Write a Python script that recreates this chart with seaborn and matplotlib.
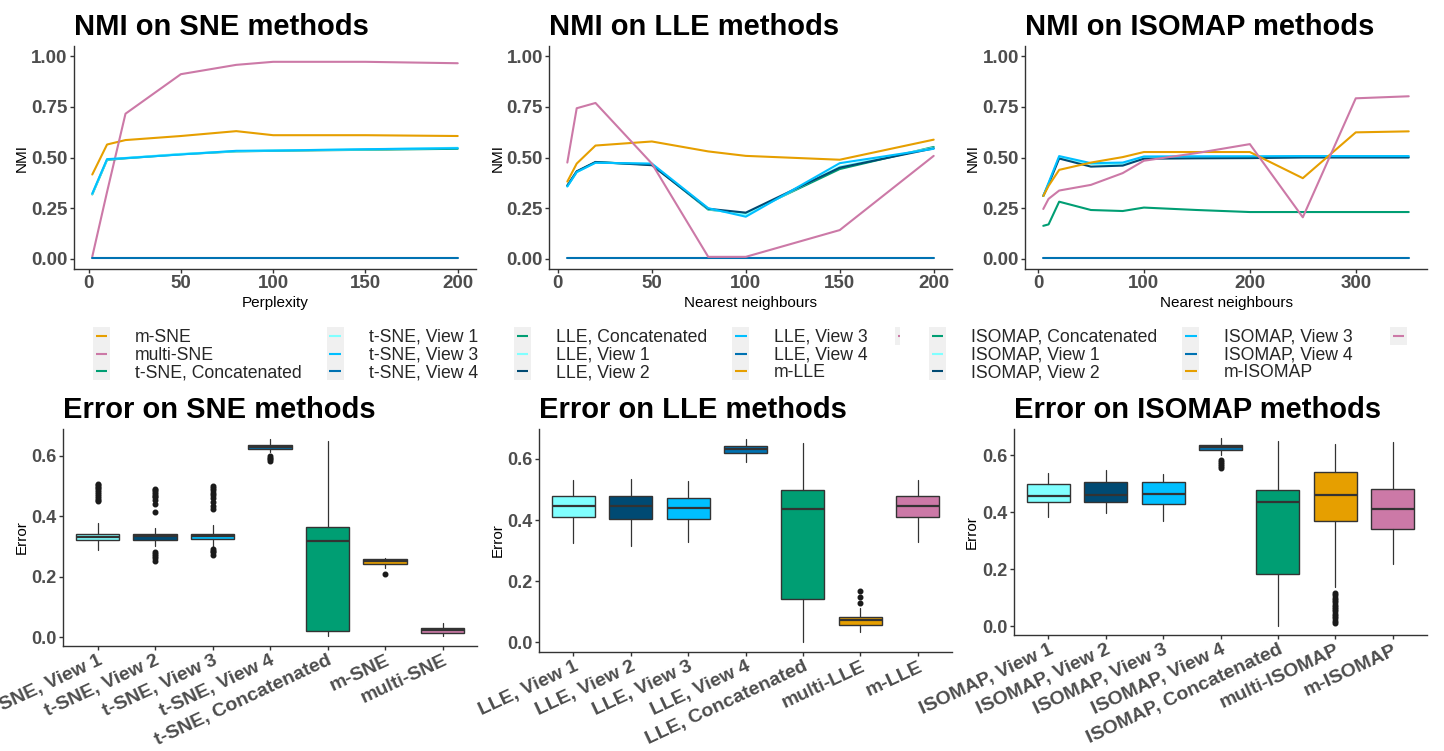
import matplotlib
matplotlib.use("Agg")
import numpy as np
import pandas as pd
import matplotlib.pyplot as plt
import seaborn as sns
from matplotlib.lines import Line2D
from matplotlib.patches import Rectangle
from matplotlib.legend_handler import HandlerBase
from matplotlib.transforms import Bbox, TransformedBbox
from matplotlib.ticker import FormatStrFormatter

# ---------------------------------------------------------------- colours
COL_V1 = "#80FFFF"
COL_V2 = "#004A73"
COL_V3 = "#00BFFF"
COL_V4 = "#0072B2"
COL_CONCAT = "#009E73"
COL_M = "#E69F00"
COL_MULTI = "#CC79A7"

# ---------------------------------------------------------------- NMI: SNE
sne_perplexity = [2, 10, 20, 50, 80, 100, 150, 200]
sne_methods = ["m-SNE", "multi-SNE", "t-SNE, Concatenated",
               "t-SNE, View 1", "t-SNE, View 3", "t-SNE, View 4"]
sne_m = [0.416, 0.564, 0.586, 0.606, 0.630, 0.610, 0.610, 0.606]
sne_multi = [0.011, 0.330, 0.716, 0.911, 0.957, 0.972, 0.972, 0.965]
sne_concat = [0.318, 0.488, 0.496, 0.516, 0.530, 0.533, 0.538, 0.543]
sne_view1 = [0.320, 0.490, 0.498, 0.518, 0.531, 0.535, 0.540, 0.548]
sne_view3 = [0.322, 0.492, 0.497, 0.515, 0.533, 0.534, 0.541, 0.546]
sne_view4 = [0.005, 0.005, 0.005, 0.005, 0.005, 0.005, 0.005, 0.005]

# ---------------------------------------------------------------- NMI: LLE
lle_neighbours = [5, 10, 20, 50, 80, 100, 150, 200]
lle_methods = ["LLE, Concatenated", "LLE, View 1", "LLE, View 2",
               "LLE, View 3", "LLE, View 4", "m-LLE", "multi-LLE"]
lle_concat = [0.360, 0.430, 0.477, 0.465, 0.243, 0.223, 0.443, 0.552]
lle_view1 = [0.358, 0.428, 0.475, 0.468, 0.245, 0.218, 0.455, 0.548]
lle_view2 = [0.362, 0.432, 0.478, 0.462, 0.247, 0.228, 0.450, 0.545]
lle_view3 = [0.357, 0.428, 0.474, 0.470, 0.250, 0.208, 0.472, 0.543]
lle_view4 = [0.005, 0.005, 0.005, 0.005, 0.005, 0.005, 0.005, 0.005]
lle_m = [0.381, 0.470, 0.559, 0.579, 0.530, 0.508, 0.489, 0.588]
lle_multi = [0.475, 0.743, 0.769, 0.470, 0.010, 0.010, 0.142, 0.508]

# ---------------------------------------------------------------- NMI: ISOMAP
iso_neighbours = [5, 10, 20, 50, 80, 100, 150, 200, 250, 300, 350]
iso_methods = ["ISOMAP, Concatenated", "ISOMAP, View 1", "ISOMAP, View 2",
               "ISOMAP, View 3", "ISOMAP, View 4", "m-ISOMAP", "multi-ISOMAP"]
iso_concat = [0.163, 0.170, 0.282, 0.241, 0.236, 0.253, 0.241, 0.231, 0.231, 0.231, 0.231]
iso_view1 = [0.310, 0.372, 0.502, 0.468, 0.468, 0.503, 0.503, 0.503, 0.505, 0.505, 0.505]
iso_view2 = [0.310, 0.368, 0.495, 0.455, 0.460, 0.494, 0.496, 0.497, 0.500, 0.500, 0.500]
iso_view3 = [0.310, 0.375, 0.507, 0.472, 0.475, 0.505, 0.506, 0.506, 0.507, 0.507, 0.507]
iso_view4 = [0.005, 0.005, 0.005, 0.005, 0.005, 0.005, 0.005, 0.005, 0.005, 0.005, 0.005]
iso_m = [0.310, 0.360, 0.439, 0.475, 0.502, 0.527, 0.527, 0.527, 0.398, 0.624, 0.629]
iso_multi = [0.246, 0.296, 0.337, 0.365, 0.423, 0.484, 0.522, 0.566, 0.205, 0.792, 0.802]

# ---------------------------------------------------------------- Error: SNE
sne_box_labels = ["t-SNE, View 1", "t-SNE, View 2", "t-SNE, View 3", "t-SNE, View 4",
                  "t-SNE, Concatenated", "m-SNE", "multi-SNE"]
sne_q1 = [0.320, 0.320, 0.323, 0.622, 0.020, 0.242, 0.014]
sne_med = [0.331, 0.334, 0.333, 0.629, 0.318, 0.253, 0.022]
sne_q3 = [0.342, 0.342, 0.342, 0.637, 0.364, 0.259, 0.029]
sne_whislo = [0.289, 0.300, 0.298, 0.614, 0.003, 0.228, 0.003]
sne_whishi = [0.376, 0.362, 0.370, 0.656, 0.648, 0.262, 0.046]
sne_fliers = [
    [0.450, 0.455, 0.460, 0.468, 0.475, 0.480, 0.486, 0.492, 0.497, 0.502, 0.505],
    [0.253, 0.260, 0.268, 0.275, 0.281, 0.415, 0.440, 0.455, 0.462, 0.468, 0.474,
     0.480, 0.486, 0.491],
    [0.273, 0.280, 0.286, 0.292, 0.423, 0.435, 0.448, 0.460, 0.470, 0.478, 0.486,
     0.493, 0.500],
    [0.583, 0.588, 0.593, 0.598],
    [],
    [0.209],
    [],
]

# ---------------------------------------------------------------- Error: LLE
lle_box_labels = ["LLE, View 1", "LLE, View 2", "LLE, View 3", "LLE, View 4",
                  "LLE, Concatenated", "multi-LLE", "m-LLE"]
lle_q1 = [0.411, 0.403, 0.403, 0.621, 0.143, 0.056, 0.410]
lle_med = [0.445, 0.445, 0.439, 0.633, 0.435, 0.072, 0.445]
lle_q3 = [0.479, 0.479, 0.473, 0.644, 0.498, 0.083, 0.479]
lle_whislo = [0.326, 0.316, 0.329, 0.589, 0.001, 0.032, 0.327]
lle_whishi = [0.531, 0.533, 0.528, 0.665, 0.651, 0.112, 0.531]
lle_fliers = [[], [], [], [], [], [0.127, 0.149, 0.167], []]

# ---------------------------------------------------------------- Error: ISOMAP
iso_box_labels = ["ISOMAP, View 1", "ISOMAP, View 2", "ISOMAP, View 3", "ISOMAP, View 4",
                  "ISOMAP, Concatenated", "multi-ISOMAP", "m-ISOMAP"]
iso_q1 = [0.435, 0.437, 0.429, 0.618, 0.185, 0.371, 0.342]
iso_med = [0.456, 0.460, 0.463, 0.629, 0.436, 0.462, 0.411]
iso_q3 = [0.501, 0.507, 0.506, 0.636, 0.480, 0.541, 0.482]
iso_whislo = [0.382, 0.397, 0.368, 0.603, 0.002, 0.136, 0.217]
iso_whishi = [0.539, 0.550, 0.535, 0.660, 0.651, 0.641, 0.647]
iso_fliers = [
    [], [], [],
    [0.556, 0.563, 0.570, 0.577, 0.584],
    [],
    [0.012, 0.020, 0.028, 0.036, 0.044, 0.052, 0.060, 0.068, 0.076, 0.084,
     0.092, 0.100, 0.108, 0.116],
    [],
]

box_colors = [COL_V1, COL_V2, COL_V3, COL_V4, COL_CONCAT, COL_M, COL_MULTI]

# ---------------------------------------------------------------- style
sns.set_theme(style="ticks")
plt.rcParams["font.family"] = ["Liberation Sans", "DejaVu Sans"]
plt.rcParams["axes.edgecolor"] = "#333333"
plt.rcParams["axes.linewidth"] = 1.0
plt.rcParams["xtick.color"] = "#333333"
plt.rcParams["ytick.color"] = "#333333"

W, H = 1444, 751
fig = plt.figure(figsize=(W / 100, H / 100), dpi=100)
fig.patch.set_facecolor("white")

TICK_GREY = "#4D4D4D"


def add_axes_px(left, top, right, bottom):
    return fig.add_axes([left / W, 1 - bottom / H, (right - left) / W, (bottom - top) / H])


def style_axes(ax, box, title, ylabel_right_px):
    left, top, right, bottom = box
    sns.despine(ax=ax)
    ax.set_facecolor("white")
    ax.set_title(title, loc="left", fontsize=21, fontweight="bold", pad=8, color="black")
    ax.yaxis.set_label_coords((ylabel_right_px - left) / (right - left), 0.5)
    ax.tick_params(length=3, width=1.0, pad=1.5)


def long_frame(x, names, series):
    rows = []
    for name, vals in zip(names, series):
        for xi, yi in zip(x, vals):
            rows.append((name, xi, yi))
    return pd.DataFrame(rows, columns=["method", "k", "NMI"])


top_panels = [
    dict(box=(74, 46, 476, 269), title="NMI on SNE methods", xlabel="Perplexity",
         x=sne_perplexity, names=sne_methods,
         series=[sne_m, sne_multi, sne_concat, sne_view1, sne_view3, sne_view4],
         colors=[COL_M, COL_MULTI, COL_CONCAT, COL_V1, COL_V3, COL_V4],
         xticks=[0, 50, 100, 150, 200], ylab_px=29),
    dict(box=(549, 46, 952, 269), title="NMI on LLE methods", xlabel="Nearest neighbours",
         x=lle_neighbours, names=lle_methods,
         series=[lle_concat, lle_view1, lle_view2, lle_view3, lle_view4, lle_m, lle_multi],
         colors=[COL_CONCAT, COL_V1, COL_V2, COL_V3, COL_V4, COL_M, COL_MULTI],
         xticks=[0, 50, 100, 150, 200], ylab_px=505),
    dict(box=(1025, 46, 1427, 269), title="NMI on ISOMAP methods", xlabel="Nearest neighbours",
         x=iso_neighbours, names=iso_methods,
         series=[iso_concat, iso_view1, iso_view2, iso_view3, iso_view4, iso_m, iso_multi],
         colors=[COL_CONCAT, COL_V1, COL_V2, COL_V3, COL_V4, COL_M, COL_MULTI],
         xticks=[0, 100, 200, 300], ylab_px=980),
]

for p in top_panels:
    ax = add_axes_px(*p["box"])
    df = long_frame(p["x"], p["names"], p["series"])
    sns.lineplot(data=df, x="k", y="NMI", hue="method", hue_order=p["names"],
                 palette=dict(zip(p["names"], p["colors"])), linewidth=1.5,
                 legend=False, ax=ax)
    span = max(p["x"]) - min(p["x"])
    ax.set_xlim(min(p["x"]) - 0.05 * span, max(p["x"]) + 0.05 * span)
    ax.set_ylim(-0.05, 1.05)
    ax.set_xticks(p["xticks"])
    ax.set_yticks([0, 0.25, 0.5, 0.75, 1.0])
    ax.yaxis.set_major_formatter(FormatStrFormatter("%.2f"))
    for lab in ax.get_xticklabels() + ax.get_yticklabels():
        lab.set_fontweight("bold")
        lab.set_fontsize(13.5)
        lab.set_color(TICK_GREY)
    ax.set_xlabel(p["xlabel"], fontsize=11, color="black")
    ax.set_ylabel("NMI", fontsize=11, color="black")
    style_axes(ax, p["box"], p["title"], p["ylab_px"])
    ax.xaxis.set_label_coords(0.5, (p["box"][3] - 296) / (p["box"][3] - p["box"][1]))


bottom_panels = [
    dict(box=(63, 429, 477, 646), title="Error on SNE methods", labels=sne_box_labels,
         q1=sne_q1, med=sne_med, q3=sne_q3, lo=sne_whislo, hi=sne_whishi,
         fliers=sne_fliers, ylab_px=29),
    dict(box=(539, 429, 952, 652), title="Error on LLE methods", labels=lle_box_labels,
         q1=lle_q1, med=lle_med, q3=lle_q3, lo=lle_whislo, hi=lle_whishi,
         fliers=lle_fliers, ylab_px=505),
    dict(box=(1014, 429, 1427, 635), title="Error on ISOMAP methods", labels=iso_box_labels,
         q1=iso_q1, med=iso_med, q3=iso_q3, lo=iso_whislo, hi=iso_whishi,
         fliers=iso_fliers, ylab_px=979),
]

for p in bottom_panels:
    ax = add_axes_px(*p["box"])
    stats = []
    for i in range(len(p["labels"])):
        stats.append(dict(label=p["labels"][i], q1=p["q1"][i], med=p["med"][i],
                          q3=p["q3"][i], whislo=p["lo"][i], whishi=p["hi"][i],
                          fliers=np.array(p["fliers"][i], dtype=float)))
    pos = np.arange(len(stats))
    bp = ax.bxp(stats, positions=pos, widths=0.75, patch_artist=True, showcaps=False,
                boxprops=dict(edgecolor="#333333", linewidth=1.0),
                medianprops=dict(color="#333333", linewidth=1.6),
                whiskerprops=dict(color="#333333", linewidth=0.9),
                flierprops=dict(marker="o", markersize=3.3, markerfacecolor="#1A1A1A",
                                markeredgecolor="#1A1A1A", linestyle="none"))
    for patch, c in zip(bp["boxes"], box_colors):
        patch.set_facecolor(c)
    all_vals = p["lo"] + p["hi"] + [v for f in p["fliers"] for v in f]
    lo, hi = min(all_vals), max(all_vals)
    ax.set_ylim(lo - 0.05 * (hi - lo), hi + 0.05 * (hi - lo))
    ax.set_xlim(-0.6, len(stats) - 0.4)
    ax.set_yticks([0, 0.2, 0.4, 0.6])
    ax.yaxis.set_major_formatter(FormatStrFormatter("%.1f"))
    ax.set_xticks(pos)
    ax.set_xticklabels(p["labels"], rotation=25, ha="right", rotation_mode="anchor")
    for lab in ax.get_xticklabels():
        lab.set_fontweight("bold")
        lab.set_fontsize(14)
        lab.set_color(TICK_GREY)
    for lab in ax.get_yticklabels():
        lab.set_fontweight("bold")
        lab.set_fontsize(13)
        lab.set_color(TICK_GREY)
    ax.set_ylabel("Error", fontsize=11, color="black")
    ax.set_xlabel("")
    style_axes(ax, p["box"], p["title"], p["ylab_px"])


# ---------------------------------------------------------------- legends
class KeyHandler(HandlerBase):
    """Grey key square with a short coloured dash, as in a ggplot legend."""

    def create_artists(self, legend, orig_handle, xdescent, ydescent, width, height,
                       fontsize, trans):
        pitch = fontsize * 1.0
        yc = height / 2 - ydescent
        bg = Rectangle((-xdescent, yc - pitch / 2), width, pitch, facecolor="#F0F0F0",
                       edgecolor="none", transform=trans)
        seg = Line2D([-xdescent + width * 0.15, -xdescent + width * 0.85], [yc, yc],
                     color=orig_handle.get_color(), linewidth=1.5,
                     solid_capstyle="butt", transform=trans)
        return [bg, seg]


LEG_FS = 12.7


def add_legend(names, colors, left_px, top_px, ncol, clip_right_px=None, show_text=True):
    labels = names if show_text else ["" for _ in names]
    handles = [Line2D([], [], color=c, label=n) for n, c in zip(labels, colors)]
    leg = fig.legend(handles=handles, labels=labels, loc="upper left",
                     bbox_to_anchor=(left_px / W, 1 - top_px / H),
                     ncol=ncol, frameon=False, borderpad=0, borderaxespad=0,
                     fontsize=LEG_FS, handlelength=0.96, handleheight=0.7,
                     handletextpad=1.4, columnspacing=1.45, labelspacing=0.04,
                     handler_map={Line2D: KeyHandler()})
    if clip_right_px is not None:
        clip = TransformedBbox(Bbox([[0, 0], [clip_right_px / W, 1]]), fig.transFigure)
        for a in leg.findobj():
            a.set_clip_on(True)
            a.set_clip_box(clip)
    return leg


LEG_TOP = 329
add_legend(sne_methods, top_panels[0]["colors"], 93, LEG_TOP, 2)
add_legend(lle_methods[:6], top_panels[1]["colors"][:6], 514, LEG_TOP, 2)
# third legend column of each panel runs into the next panel / the page edge
add_legend(lle_methods[6:], top_panels[1]["colors"][6:], 895, LEG_TOP, 1,
           clip_right_px=900, show_text=False)
add_legend(iso_methods[:6], top_panels[2]["colors"][:6], 929, LEG_TOP, 2)
add_legend(iso_methods[6:], top_panels[2]["colors"][6:], 1390, LEG_TOP, 1,
           clip_right_px=1428, show_text=False)

fig.savefig("out.png", dpi=100, facecolor="white")
